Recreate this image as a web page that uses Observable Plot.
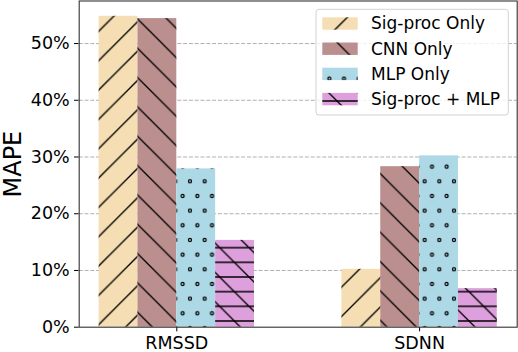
<!DOCTYPE html>
<html><head><meta charset="utf-8">
<script src="https://cdn.jsdelivr.net/npm/d3@7"></script>
<script src="https://cdn.jsdelivr.net/npm/@observablehq/plot@0.6"></script>
<style>body{margin:0;background:#fff;} #chart{width:518px;height:352px;}</style>
</head><body><div id="chart"></div>
<script>
// ---- data ----
const groups = ["RMSSD", "SDNN"];
const seriesNames = ["Sig-proc Only", "CNN Only", "MLP Only", "Sig-proc + MLP"];
const sigprocOnly = [54.8, 10.2];
const cnnOnly = [54.4, 28.3];
const mlpOnly = [27.9, 30.2];
const sigprocMlp = [15.3, 6.8];
const yTicks = [0, 10, 20, 30, 40, 50];
const gridTicks = [10, 20, 30, 40, 50];
const colors = ["#f5deb3", "#bc8f8f", "#add8e6", "#dda0dd"];
const hatchIds = ["hatch-slash", "hatch-back", "hatch-dots", "hatch-dashback"];
const yLabel = "MAPE";

const seriesValues = [sigprocOnly, cnnOnly, mlpOnly, sigprocMlp];
const barWidth = 0.16;
const data = [];
groups.forEach((g, gi) => seriesValues.forEach((vals, si) => {
  const c = gi + (si - 1.5) * barWidth;
  data.push({group: g, series: seriesNames[si], x1: c - barWidth / 2, x2: c + barWidth / 2, value: vals[gi]});
}));

const W = 518, H = 352, mL = 78.7, mR = 1.3, mT = 0.5, mB = 25.3;
const font = "'DejaVu Sans', sans-serif";

const plot = Plot.plot({
  width: W, height: H,
  marginLeft: mL, marginRight: mR, marginTop: mT, marginBottom: mB,
  style: {fontFamily: font, fontSize: "17.5px", color: "#000", background: "#fff", overflow: "visible"},
  x: {domain: [-0.402, 1.402], ticks: [0, 1], tickFormat: i => groups[i], tickSize: 4.7, tickPadding: 4.8, label: null},
  y: {domain: [0, 57.5], ticks: yTicks, tickFormat: d => d + "%", tickSize: 4.7, tickPadding: 4.8, label: null},
  color: {domain: seriesNames, range: colors},
  marks: [
    Plot.ruleY(gridTicks, {stroke: "#b0b0b0", strokeWidth: 1, strokeDasharray: "4,1.8"}),
    Plot.rectY(data, {x1: "x1", x2: "x2", y1: 0, y2: "value", fill: "series"}),
    ...seriesNames.map((s, si) => Plot.rectY(data.filter(d => d.series === s),
      {x1: "x1", x2: "x2", y1: 0, y2: "value", fill: `url(#${hatchIds[si]})`})),
    Plot.frame({stroke: "#333", strokeWidth: 1.1})
  ]
});

// ---- hatch patterns ----
const svg = d3.select(plot);
const defs = svg.insert("defs", ":first-child");
const T = 29.333, h = T / 2;
function pat(id, w, ht, tx, ty) {
  return defs.append("pattern").attr("id", id).attr("patternUnits", "userSpaceOnUse")
    .attr("width", w).attr("height", ht).attr("patternTransform", `translate(${tx},${ty})`);
}
const back = `M0,0 L${T},${T} M${T - 2},-2 L${T + 2},2 M-2,${T - 2} L2,${T + 2}`;
pat(hatchIds[0], T, T, 12.67, 0).append("path")
  .attr("d", `M0,${T} L${T},0 M-2,2 L2,-2 M${T - 2},${T + 2} L${T + 2},${T - 2}`)
  .attr("stroke", "#000").attr("stroke-width", 1.35).attr("fill", "none");
pat(hatchIds[1], T, T, 1.33, 0).append("path")
  .attr("d", back).attr("stroke", "#000").attr("stroke-width", 1.35).attr("fill", "none");
const pd = pat(hatchIds[2], h, T, 14, 5.3);
[[0, 0], [h, 0], [0, T], [h, T], [h / 2, h]].forEach(([cx, cy]) =>
  pd.append("circle").attr("cx", cx).attr("cy", cy).attr("r", 1.5)
    .attr("fill", "none").attr("stroke", "#000").attr("stroke-width", 1.25));
const p3 = pat(hatchIds[3], T, T, 14.33, 13);
p3.append("path").attr("d", `M0,0 H${T} M0,${h} H${T} M0,${T} H${T}`)
  .attr("stroke", "#000").attr("stroke-width", 1.5).attr("fill", "none");
p3.append("path").attr("d", back).attr("stroke", "#000").attr("stroke-width", 1.35).attr("fill", "none");

// ---- y label ----
svg.append("text").text(yLabel)
  .attr("transform", `translate(20.5,${(mT + H - mB) / 2 + 0.5}) rotate(-90)`)
  .attr("text-anchor", "middle").attr("font-family", font).attr("font-size", 24).attr("fill", "#000");

// ---- legend ----
const lw = 192.3, lh = 105.7;
const lx = W - mR - 8.4 - lw, ly = 9.3;
const lg = svg.append("g").attr("text-anchor", "start");
lg.append("rect").attr("x", lx).attr("y", ly).attr("width", lw).attr("height", lh).attr("rx", 3)
  .style("fill", "#fff").style("fill-opacity", 0.8).style("stroke", "#d2d2d2").style("stroke-width", 1);
seriesNames.forEach((s, i) => {
  const sy = ly + 8 + i * 25.2;
  lg.append("rect").attr("x", lx + 6.3).attr("y", sy).attr("width", 35.4).attr("height", 12.4).attr("fill", colors[i]);
  lg.append("rect").attr("x", lx + 6.3).attr("y", sy).attr("width", 35.4).attr("height", 12.4).attr("fill", `url(#${hatchIds[i]})`);
  lg.append("text").text(s).attr("x", lx + 55).attr("y", sy + 12).attr("text-anchor", "start")
    .attr("font-family", font).attr("font-size", 17).attr("fill", "#000");
});

document.getElementById("chart").appendChild(plot);
</script>
</body></html>
